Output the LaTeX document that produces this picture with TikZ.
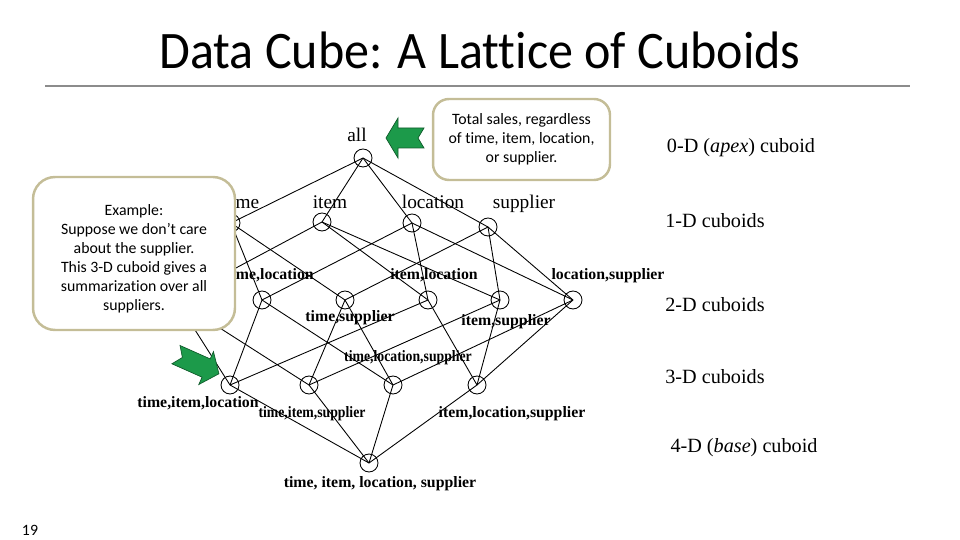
\documentclass[tikz,border=0pt]{standalone}
\usepackage{fontspec}
\setmainfont{Liberation Serif}
\newfontfamily\calibri[Ligatures=NoCommon]{Carlito}
\usetikzlibrary{shapes}
\definecolor{calloutborder}{HTML}{C4BD97}
\definecolor{arrowgreen}{HTML}{1C9A4A}
\definecolor{rulegray}{HTML}{8C8C8C}

\begin{document}
\begin{tikzpicture}[x=0.02cm,y=-0.02cm,
		cuboid/.style={draw,circle,inner sep=0pt,minimum size=0.36cm,line width=0.5pt},
		lattice/.style={line width=0.5pt},
		dim/.style={anchor=base,font=\fontsize{11}{13}\selectfont},
		combo/.style={anchor=base,font=\fontsize{9}{11}\selectfont\bfseries},
		squeezed/.style={combo,xscale=0.87},
		level/.style={font=\fontsize{11.5}{13}\selectfont},
		callout/.style={draw=calloutborder,line width=1.4pt,fill=white,rounded corners=0.32cm,align=center,inner sep=0pt,font=\calibri\fontsize{9}{10.8}\selectfont},
		bigarrow/.style={fill=arrowgreen,draw=arrowgreen!60!black,line width=0.4pt}]
	\useasboundingbox (0,0) rectangle (960,540);
	\node[font=\calibri\fontsize{30}{34}\selectfont,xscale=0.95] (title) at (480,50) {Data Cube: A Lattice of Cuboids};
	\draw[rulegray,line width=0.6pt] (45,86) -- (910,86);
	\node[font=\calibri\fontsize{9}{10}\selectfont] (pagenum) at (30,530) {19};

	\node[cuboid] (all) at (363,158) {};
	\node[cuboid] (t) at (231,223) {};
	\node[cuboid] (i) at (322,222) {};
	\node[cuboid] (l) at (412,223) {};
	\node[cuboid] (s) at (488,227) {};
	\node[cuboid] (ti) at (176,300) {};
	\node[cuboid] (tl) at (262,300) {};
	\node[cuboid] (ts) at (345,300) {};
	\node[cuboid] (il) at (428,300) {};
	\node[cuboid] (is) at (500,300) {};
	\node[cuboid] (ls) at (573,300) {};
	\node[cuboid] (til) at (230,385) {};
	\node[cuboid] (tis) at (309,385) {};
	\node[cuboid] (tls) at (393,385) {};
	\node[cuboid] (ils) at (477,385) {};
	\node[cuboid] (base) at (369,463) {};

	\path[lattice] (all.center) edge (t.center) edge (i.center) edge (l.center) edge (s.center);
	\path[lattice] (t.center) edge (ti.center) edge (tl.center) edge (ts.center);
	\path[lattice] (i.center) edge (ti.center) edge (il.center) edge (is.center);
	\path[lattice] (l.center) edge (tl.center) edge (il.center) edge (ls.center);
	\path[lattice] (s.center) edge (ts.center) edge (is.center) edge (ls.center);
	\path[lattice] (ti.center) edge (til.center) edge (tis.center);
	\path[lattice] (tl.center) edge (til.center) edge (tls.center);
	\path[lattice] (ts.center) edge (tis.center) edge (tls.center);
	\path[lattice] (il.center) edge (til.center) edge (ils.center);
	\path[lattice] (is.center) edge (tis.center) edge (ils.center);
	\path[lattice] (ls.center) edge (tls.center) edge (ils.center);
	\path[lattice] (base.center) edge (til.center) edge (tis.center) edge (tls.center) edge (ils.center);

	\node[dim] (alllabel) at (357,141.5) {all};
	\node[dim] (tlabel) at (242,208.5) {time};
	\node[dim] (ilabel) at (330,208.5) {item};
	\node[dim] (llabel) at (433,208.5) {location};
	\node[dim] (slabel) at (524,208.5) {supplier};
	\node[combo] (tllabel) at (270,280) {time,location};
	\node[combo] (illabel) at (434,280) {item,location};
	\node[combo] (lslabel) at (608,280) {location,supplier};
	\node[combo] (tslabel) at (350,322) {time,supplier};
	\node[combo] (islabel) at (506,326) {item,supplier};
	\node[squeezed] (tlslabel) at (408,362) {time,location,supplier};
	\node[combo] (tillabel) at (198,407) {time,item,location};
	\node[squeezed] (tislabel) at (312,418) {time,item,supplier};
	\node[combo] (ilslabel) at (512,418) {item,location,supplier};
	\node[combo] (baselabel) at (380,487) {time, item, location, supplier};

	\node[level] (apexlevel) at (741,148) {0-D (\textit{apex}) cuboid};
	\node[level] (onelevel) at (715,221) {1-D cuboids};
	\node[level] (twolevel) at (715,305) {2-D cuboids};
	\node[level] (threelevel) at (715,377) {3-D cuboids};
	\node[level] (baselevel) at (744,448) {4-D (\textit{base}) cuboid};

	\node[callout,minimum width=3.54cm,minimum height=1.62cm] (totalnote) at (521.5,139.5) {Total sales, regardless\\of time, item, location,\\or supplier.};
	\node[callout,rounded corners=0.44cm,minimum width=4.04cm,minimum height=3.06cm] (examplenote) at (134,253.5) {\raisebox{-0.11cm}[\height][\depth]{\begin{tabular}{@{}c@{}}Example:\\Suppose we don’t care\\about the supplier.\\This 3-D cuboid gives a\\summarization over all\\suppliers.\end{tabular}}};

	\draw[bigarrow,shift={(405,138)},rotate=180] (19,0) -- (7,20) -- (7,10) -- (-19,10) -- (-13,0) -- (-19,-10) -- (7,-10) -- (7,-20) -- cycle;
	\draw[bigarrow,shift={(197,364)},rotate=-24] (24,0) -- (10,18) -- (10,10) -- (-23,10) -- (-16,0) -- (-23,-10) -- (10,-10) -- (10,-18) -- cycle;
\end{tikzpicture}
\end{document}
